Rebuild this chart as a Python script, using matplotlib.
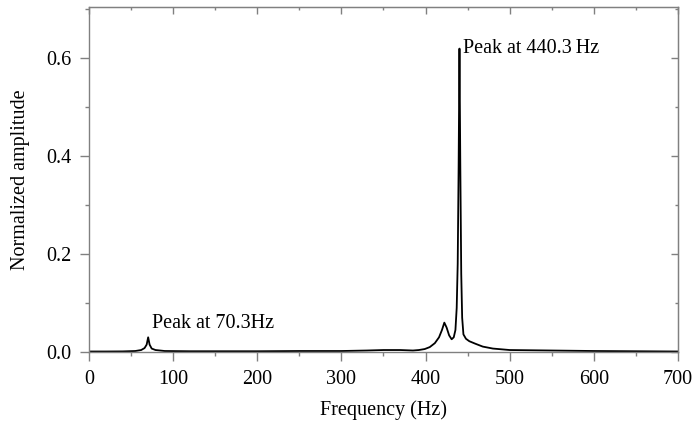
import matplotlib
matplotlib.use("Agg")
import matplotlib.pyplot as plt
from matplotlib.ticker import MultipleLocator, FormatStrFormatter

plt.rcParams['font.family'] = ['Liberation Serif', 'DejaVu Serif']

# Spectrum (frequency in Hz, normalized amplitude)
freq = [0, 20, 40, 55, 62, 66, 68.5, 70.3, 72, 74.5, 79, 90, 120, 160, 200, 250,
        300, 330, 350, 370, 385, 392, 399, 405, 411, 416, 419.5, 422.3, 425, 428,
        431, 433.5, 435.5, 437, 438.2, 439.3, 440.3, 441.3, 442.4, 443.5, 445,
        448, 452, 459, 468, 480, 500, 550, 600, 650, 700]
amp = [0.001, 0.001, 0.0012, 0.002, 0.004, 0.008, 0.015, 0.030, 0.015, 0.007, 0.004,
       0.002, 0.0015, 0.0015, 0.0015, 0.002, 0.002, 0.003, 0.004, 0.004, 0.003,
       0.004, 0.006, 0.010, 0.018, 0.030, 0.045, 0.060, 0.050, 0.034, 0.026,
       0.030, 0.045, 0.090, 0.180, 0.380, 0.620, 0.380, 0.160, 0.070, 0.036,
       0.027, 0.022, 0.017, 0.011, 0.007, 0.004, 0.003, 0.002, 0.0015, 0.001]

peak_freqs = [70.3, 440.3]
peak_amps = [0.030, 0.620]
peak_labels = ['Peak at 70.3Hz', 'Peak at 440.3\u2009Hz']
label_y = [0.059, 0.621]

fig = plt.figure(figsize=(6.96, 4.25), dpi=100)
ax = fig.add_axes([0.1279, 0.1718, 0.9741 - 0.1279, 0.9835 - 0.1718])

ax.plot(freq, amp, color='black', lw=1.3)

for f, y, t in zip(peak_freqs, label_y, peak_labels):
    ax.text(f + 4.2, y, t, fontsize=14.5, va='center', ha='left')

ax.set_xlim(0, 700)
ax.set_ylim(0, 0.705)
ax.xaxis.set_major_locator(MultipleLocator(100))
ax.xaxis.set_minor_locator(MultipleLocator(50))
ax.yaxis.set_major_locator(MultipleLocator(0.2))
ax.yaxis.set_minor_locator(MultipleLocator(0.1))
ax.yaxis.set_major_formatter(FormatStrFormatter('%.1f'))

gray = '#808080'
for s in ax.spines.values():
    s.set_color(gray)
    s.set_linewidth(1.0)

ax.tick_params(which='both', direction='out', color=gray, labelsize=14.5,
               top=False, right=False)
ax.tick_params(which='major', length=6.5, width=1.0)
ax.tick_params(axis='x', which='major', pad=6.5)
ax.tick_params(axis='y', which='major', pad=6)
ax.tick_params(which='minor', length=3.2, width=1.0)

# inward ticks on top and right
secx = ax.secondary_xaxis('top')
secx.xaxis.set_major_locator(MultipleLocator(100))
secx.xaxis.set_minor_locator(MultipleLocator(50))
secx.tick_params(which='both', direction='in', color=gray, labeltop=False)
secx.tick_params(which='major', length=5, width=1.0)
secx.tick_params(which='minor', length=2.5, width=1.0)
secx.spines['top'].set_color(gray)

secy = ax.secondary_yaxis('right')
secy.yaxis.set_major_locator(MultipleLocator(0.2))
secy.yaxis.set_minor_locator(MultipleLocator(0.1))
secy.tick_params(which='both', direction='in', color=gray, labelright=False)
secy.tick_params(which='major', length=5, width=1.0)
secy.tick_params(which='minor', length=2.5, width=1.0)
secy.spines['right'].set_color(gray)

ax.set_xlabel('Frequency (Hz)', fontsize=14.5, labelpad=8)
ax.set_ylabel('Normalized amplitude', fontsize=14.5, labelpad=12)

fig.savefig('out.png', dpi=100)
